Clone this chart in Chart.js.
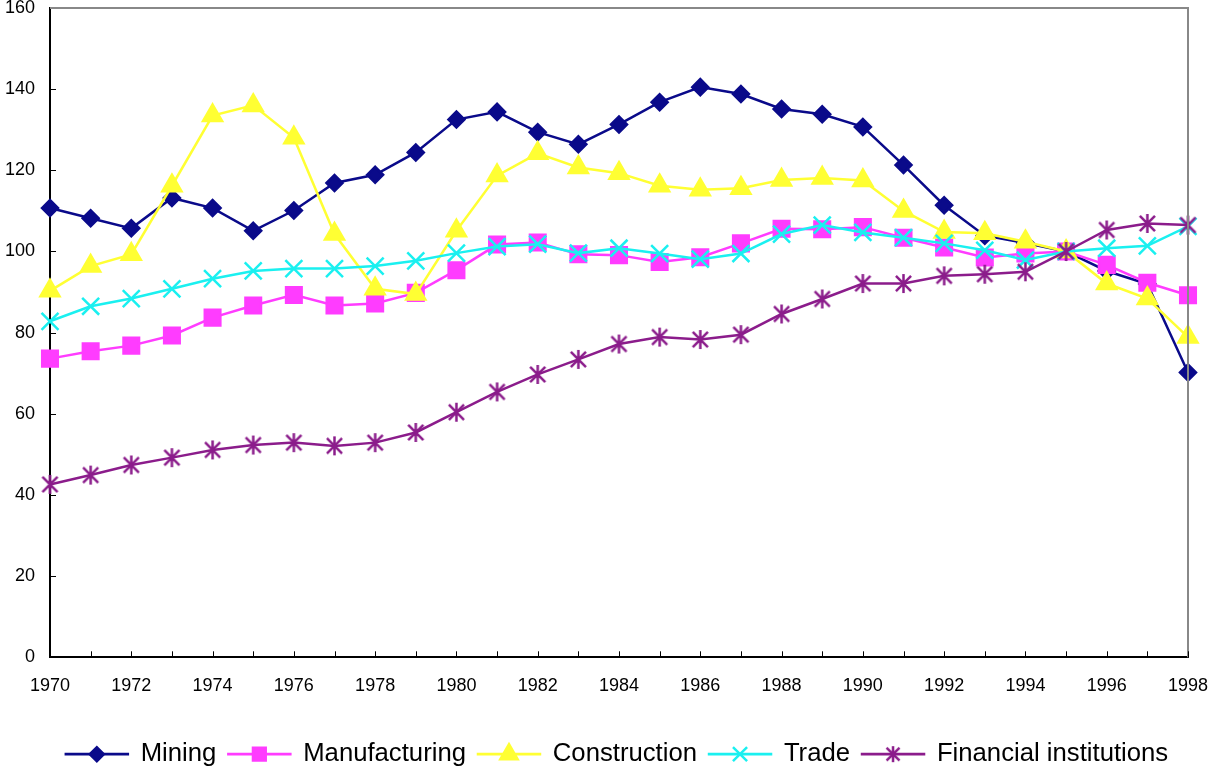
<!DOCTYPE html>
<html>
<head>
<meta charset="utf-8">
<script src="https://cdn.jsdelivr.net/npm/chart.js@4.4.1/dist/chart.umd.min.js"></script>
<style>
  html, body { margin: 0; padding: 0; background: #fff; }
  #wrap { width: 1208px; height: 769px; }
</style>
</head>
<body>
<div id="wrap"><canvas id="myChart"></canvas></div>
<script>
let years = ['1970','1971','1972','1973','1974','1975','1976','1977','1978','1979',
             '1980','1981','1982','1983','1984','1985','1986','1987','1988','1989',
             '1990','1991','1992','1993','1994','1995','1996','1997','1998'];

let mining = [110.7,108.2,105.7,113.2,110.7,105.1,110.1,116.9,118.9,124.4,
              132.5,134.4,129.4,126.4,131.3,136.8,140.5,138.8,135.1,133.8,
              130.7,121.3,111.4,103.9,102.1,100,95.2,92,70.2];
let manufacturing = [73.6,75.4,76.8,79.3,83.7,86.7,89.3,86.7,87.2,89.8,
                     95.4,101.7,102.2,99.3,99.1,97.4,98.6,102,105.6,105.5,
                     106,103.4,101,98.5,99.5,100,96.7,92.3,89.2];
let construction = [90.3,96.4,99.3,116.2,133.5,136,128,104.3,90.8,89.5,
                    105.1,118.7,124.2,120.7,119.3,116.2,115.2,115.6,117.6,118.1,
                    117.5,110,104.8,104.5,102.4,100,92.1,88.4,78.9];
let trade = [82.8,86.5,88.4,90.8,93.3,95.2,95.8,95.8,96.4,97.7,
             99.6,101.2,101.8,99.6,100.8,99.5,98.1,99.5,104.3,106.5,
             104.7,103.4,102,100.3,97.9,100,100.8,101.4,106.2];
let financial = [42.6,44.9,47.4,49.2,51.1,52.3,52.9,52.1,52.9,55.4,
                 60.4,65.4,69.7,73.4,77.2,78.9,78.3,79.5,84.6,88.3,
                 92.1,92.1,94,94.4,95,100,105.3,106.9,106.5];

// asterisk marker (vertical bar + x), like the spreadsheet one
function starMarker(color, size) {
  let c = document.createElement('canvas');
  c.width = size; c.height = size;
  let g = c.getContext('2d');
  let m = size / 2;
  let d = size * 0.36;
  g.strokeStyle = color;
  g.lineWidth = 2.5;
  g.beginPath();
  g.moveTo(m, 1); g.lineTo(m, size - 1);
  g.moveTo(m - d, m - d); g.lineTo(m + d, m + d);
  g.moveTo(m + d, m - d); g.lineTo(m - d, m + d);
  g.stroke();
  return c;
}

let font = "'Liberation Sans', Arial, sans-serif";

function series(label, data, color, style, radius, legendStyle, legendRadius, order) {
  return {
    label: label,
    data: data,
    borderColor: color,
    backgroundColor: color,
    borderWidth: 2.5,
    pointStyle: style,
    pointRadius: radius,
    pointHoverRadius: radius,
    pointBackgroundColor: color,
    pointBorderColor: color,
    pointBorderWidth: 2.5,
    tension: 0,
    clip: false,
    order: order,
    legendStyle: legendStyle,
    legendRadius: legendRadius
  };
}

let legendShift = 23;

// frame, inner tick marks and legend markers
let extras = {
  id: 'extras',
  afterUpdate(chart) {
    // legend sits a little right of centre in the original
    let lg = chart.legend;
    lg.left += legendShift;
    lg.right += legendShift;
    lg.legendHitBoxes.forEach(h => { h.left += legendShift; });
  },
  afterDraw(chart) {
    let ctx = chart.ctx;
    let a = chart.chartArea;
    ctx.save();
    ctx.strokeStyle = '#888888';
    ctx.lineWidth = 2;
    ctx.beginPath();
    ctx.moveTo(a.left, a.top); ctx.lineTo(a.right, a.top); ctx.lineTo(a.right, a.bottom);
    ctx.stroke();
    let xs = chart.scales.x;
    let ys = chart.scales.y;
    ctx.strokeStyle = '#000';
    ctx.lineWidth = 1;
    ctx.beginPath();
    for (let i = 0; i < years.length; i++) {
      let px = Math.round(xs.getPixelForTick(i)) + 0.5;
      ctx.moveTo(px, a.bottom); ctx.lineTo(px, a.bottom - 6);
    }
    for (let i = 1; i < ys.ticks.length - 1; i++) {
      let py = Math.round(ys.getPixelForTick(i)) + 0.5;
      ctx.moveTo(a.left, py); ctx.lineTo(a.left + 6, py);
    }
    ctx.stroke();
    let lg = chart.legend;
    lg.legendHitBoxes.forEach((hb, i) => {
      let item = lg.legendItems[i];
      let ds = chart.data.datasets[item.datasetIndex];
      let cx = hb.left + 31;
      let cy = hb.top + hb.height / 2;
      ctx.fillStyle = ds.borderColor;
      ctx.strokeStyle = ds.borderColor;
      ctx.lineWidth = 2.5;
      Chart.helpers.drawPoint(ctx, {
        pointStyle: ds.legendStyle, radius: ds.legendRadius, rotation: 0, borderWidth: 2.5
      }, cx, cy);
    });
    ctx.restore();
  }
};

let canvas = document.getElementById('myChart');
let ctx = canvas.getContext('2d');

let myChart = new Chart(ctx, {
  type: 'line',
  data: {
    labels: years,
    datasets: [
      series('Mining', mining, '#0a0a8a', 'rectRot', 8, 'rectRot', 7, 5),
      series('Manufacturing', manufacturing, '#ff3cff', 'rect', 11, 'rect', 9, 4),
      series('Construction', construction, '#ffff33', 'triangle', 11, 'triangle', 10, 3),
      series('Trade', trade, '#1af0f0', 'crossRot', 12, 'crossRot', 10, 2),
      series('Financial institutions', financial, '#8b1c8b', starMarker('#8b1c8b', 21),
             10, starMarker('#8b1c8b', 18), 9, 1)
    ]
  },
  options: {
    responsive: true,
    maintainAspectRatio: false,
    animation: false,
    layout: { autoPadding: false, padding: { top: 8, right: 20, bottom: -8, left: 0 } },
    plugins: {
      tooltip: { enabled: false },
      legend: {
        position: 'bottom',
        labels: {
          boxWidth: 62,
          boxHeight: 0.1,
          padding: 12,
          color: '#000',
          font: { family: font, size: 25.7 },
          sort: (a, b) => a.datasetIndex - b.datasetIndex
        }
      }
    },
    scales: {
      x: {
        offset: false,
        grid: { display: false, drawTicks: false },
        border: { display: true, color: '#000', width: 2 },
        ticks: {
          autoSkip: false,
          maxRotation: 0,
          padding: 18,
          color: '#000',
          font: { family: font, size: 18 },
          callback: function (v, i) { return i % 2 === 0 ? years[i] : ''; }
        },
        afterFit: s => {
          s.height = 72;
          s.paddingLeft = 0; s.paddingRight = 0;
        }
      },
      y: {
        min: 0,
        max: 160,
        grid: { display: false, drawTicks: false },
        border: { display: true, color: '#000', width: 2 },
        ticks: {
          stepSize: 20,
          padding: 15,
          color: '#000',
          font: { family: font, size: 18 }
        },
        afterFit: s => {
          s.width = 50;
          s.paddingTop = 0; s.paddingBottom = 0;
        }
      }
    }
  },
  plugins: [extras]
});
</script>
</body>
</html>
